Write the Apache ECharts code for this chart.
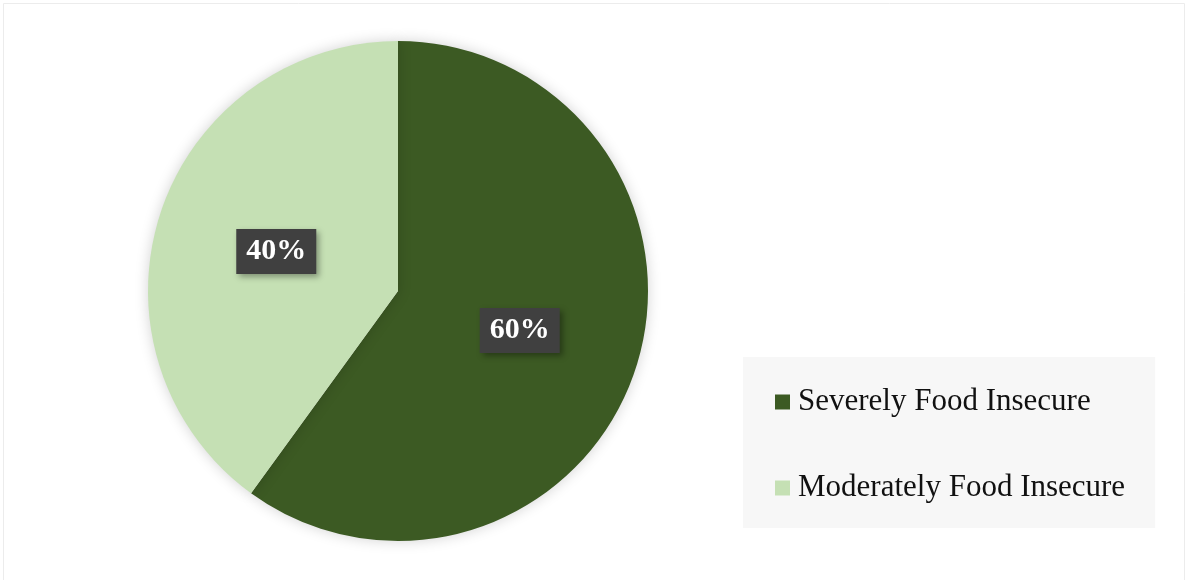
<!DOCTYPE html>
<html>
<head>
<meta charset="utf-8">
<script src="https://cdn.jsdelivr.net/npm/echarts@6/dist/echarts.min.js"></script>
<style>
  html, body { margin: 0; padding: 0; background: #fff; }
  #chart { width: 1187px; height: 580px; }
</style>
</head>
<body>
<div id="chart"></div>
<script>
// data
const categories = ['Severely Food Insecure', 'Moderately Food Insecure'];
const values = [60, 40];
const colors = ['#3c5a23', '#c5e0b4'];

const myChart = echarts.init(document.getElementById('chart'));

const pieData = categories.map((name, i) => ({
    name: name,
    value: values[i],
    itemStyle: {color: colors[i]}
}));

const option = {
    backgroundColor: '#fff',
    animation: false,
    graphic: [
        {
            // faint outer frame
            type: 'rect',
            shape: {x: 3.5, y: 3.5, width: 1181, height: 580},
            style: {fill: 'none', stroke: '#ececec', lineWidth: 1},
            silent: true
        }
    ],
    legend: {
        orient: 'vertical',
        left: 743,
        top: 357,
        backgroundColor: '#f7f7f7',
        padding: [29, 30, 24, 32],
        itemGap: 54,
        itemWidth: 15,
        itemHeight: 15,
        icon: 'rect',
        data: categories,
        textStyle: {
            fontFamily: '"Liberation Serif", "Times New Roman", serif',
            fontSize: 31,
            lineHeight: 32,
            color: '#111',
            padding: [0, 0, 0, 3]
        }
    },
    series: [
        {
            type: 'pie',
            center: [398, 291],
            radius: 250,
            startAngle: 90,
            clockwise: true,
            itemStyle: {
                shadowBlur: 14,
                shadowColor: 'rgba(0,0,0,0.18)'
            },
            label: {
                show: true,
                position: 'inside',
                formatter: '{d}%',
                color: '#fff',
                fontFamily: '"Liberation Serif", "Times New Roman", serif',
                fontWeight: 'bold',
                fontSize: 30,
                backgroundColor: '#404040',
                padding: [9, 10, 6, 10],
                shadowBlur: 6,
                shadowOffsetX: 3,
                shadowOffsetY: 3,
                shadowColor: 'rgba(0,0,0,0.35)'
            },
            labelLine: {show: false},
            emphasis: {disabled: true},
            data: pieData
        }
    ]
};

myChart.setOption(option);
</script>
</body>
</html>
